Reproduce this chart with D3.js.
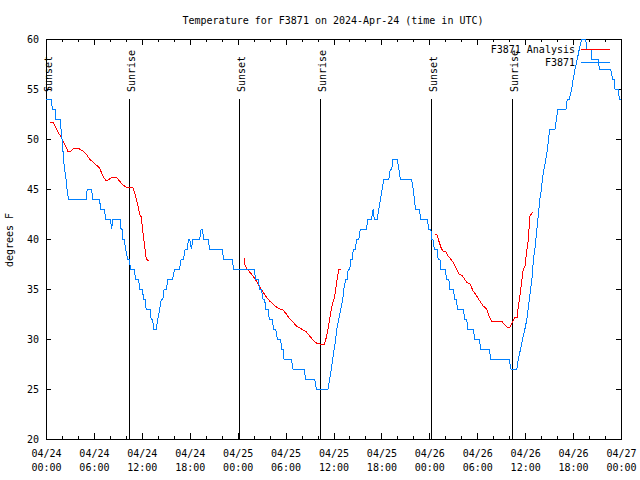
<!DOCTYPE html>
<html>
<head>
<meta charset="utf-8">
<script src="https://cdn.jsdelivr.net/npm/d3@7"></script>
<style>
  html, body { margin: 0; padding: 0; background: #fff; }
  svg text { font-family: "DejaVu Sans Mono", monospace; font-size: 10px; fill: #000; }
</style>
</head>
<body>
<svg id="chart" width="640" height="480"></svg>
<script>
// ---- DATA (hours after 2024-04-24 00:00 UTC) ----
const title = "Temperature for F3871 on 2024-Apr-24 (time in UTC)";
const yLabel = "degrees F";
const seriesNames = ["F3871 Analysis", "F3871"];

// F3871 observations
const obsHours = [0.00,0.69,0.78,1.19,1.25,1.78,1.88,2.01,2.11,2.19,2.32,2.51,2.63,2.82,
  5.04,5.16,5.70,5.87,6.71,6.83,7.33,7.46,8.08,8.21,8.40,9.27,9.40,9.55,9.63,9.78,9.96,
  10.21,10.40,10.59,11.03,11.22,11.59,11.72,12.06,12.22,12.41,12.53,13.03,13.16,13.35,
  13.47,13.81,14.01,14.23,14.44,14.64,14.79,15.10,15.23,15.85,16.10,16.73,16.92,17.23,
  17.42,17.67,17.86,17.98,18.20,18.42,19.24,19.43,19.58,19.74,20.28,20.49,22.06,22.25,
  23.29,23.50,26.04,26.26,26.54,26.76,26.97,27.17,27.38,27.51,27.80,27.95,28.30,28.51,
  28.76,28.98,29.39,29.48,29.68,29.80,30.73,30.93,32.31,32.52,33.65,33.86,35.32,35.53,
  35.72,35.91,36.09,36.28,36.41,36.66,36.91,37.16,37.29,37.54,37.72,37.85,38.04,38.16,
  38.35,38.48,38.73,38.91,39.17,39.35,40.13,40.29,40.76,40.96,41.11,41.46,41.67,41.89,
  42.09,42.30,42.93,43.11,43.30,43.46,43.97,44.18,44.37,45.77,45.97,46.12,46.27,46.72,
  46.94,47.73,47.94,48.19,48.31,48.44,48.63,48.98,49.10,49.32,49.44,50.03,50.13,50.45,
  50.51,50.98,51.20,51.41,51.51,52.24,52.45,52.66,52.83,53.49,53.70,54.24,54.46,55.50,
  55.71,58.00,58.22,58.97,59.13,59.43,59.68,59.97,60.22,60.38,60.53,60.68,60.85,60.94,
  61.04,61.22,61.35,61.47,61.60,61.72,61.85,62.04,62.16,62.35,62.60,62.79,62.92,63.10,
  63.73,63.92,64.11,65.11,65.27,65.52,65.82,66.02,66.24,66.53,66.78,67.08,67.58,67.70,
  68.24,68.33,69.16,69.28,70.71,70.96,71.13,71.25,71.66,71.79,72.00];
const obsTemps = [54,54,53,53,52,52,51,50,49,48,47,46,45,44,
  44,45,45,44,44,43,43,42,42,41,42,42,41,41,40,40,39,
  38,38,37,37,36,36,35,35,34,34,33,33,32,32,
  31,31,32,33,34,34,35,35,36,36,37,37,38,38,
  39,39,40,40,39,40,40,41,41,40,40,39,39,38,
  38,37,37,36,36,35,35,34,34,33,33,32,32,31,
  31,30,30,29,29,28,28,27,27,26,26,25,25,26,
  27,28,29,30,31,32,33,34,35,36,36,37,37,38,
  38,39,39,40,40,41,41,42,42,43,42,42,43,44,
  45,46,46,47,47,48,48,47,46,46,45,44,43,43,
  42,42,41,41,40,40,39,39,38,38,37,37,36,36,
  35,35,34,34,33,33,32,32,31,31,30,30,29,29,
  28,28,27,27,28,29,30,31,32,33,34,35,36,37,
  38,39,40,41,42,43,44,45,46,47,48,49,50,51,
  51,52,53,53,54,54,55,56,57,58,59,60,60,59,
  59,58,58,57,57,56,56,55,55,54,54];

// F3871 Analysis (three separate runs)
const anaHours1 = [0.56,0.85,1.19,1.48,1.91,2.32,2.73,3.16,3.36,3.79,4.20,4.61,5.04,5.45,5.87,
  6.29,6.71,7.12,7.54,7.96,8.37,8.80,9.21,9.63,10.05,10.47,10.88,11.09,11.30,11.51,11.72,
  11.93,12.13,12.35,12.56,12.88];
const anaTemps1 = [51.7,51.7,51.2,50.7,50.2,49.5,48.8,48.8,49.0,49.1,49.0,48.8,48.5,48.0,47.7,
  47.4,47.1,46.3,45.8,46.0,46.2,46.2,45.8,45.4,45.2,45.2,45.1,44.7,44.0,43.3,42.5,
  42.2,40.7,39.3,38.0,37.8];
const anaHours2 = [24.79,24.88,25.09,25.50,25.92,26.34,26.76,27.17,27.60,28.01,28.42,28.85,29.26,
  29.68,30.10,30.52,30.93,31.36,31.77,32.18,32.61,33.02,33.44,33.86,34.28,34.82,35.12,35.32,
  35.53,35.74,35.94,36.16,36.37,36.57,36.70,37.00];
const anaTemps2 = [38.1,37.5,37.1,36.7,36.3,35.8,35.2,34.7,34.2,33.8,33.5,33.2,33.0,
  32.9,32.5,32.0,31.7,31.3,31.1,30.9,30.7,30.3,29.9,29.6,29.5,29.4,30.2,31.0,
  32.0,33.0,33.7,34.3,35.5,36.5,37.0,37.0];
const anaHours3 = [48.69,48.98,49.23,49.53,49.73,50.07,50.36,50.78,51.11,51.41,51.74,52.16,52.66,
  53.08,53.49,53.92,54.33,54.74,55.17,55.50,55.80,57.05,57.46,57.88,58.09,58.43,58.72,59.01,
  59.13,59.34,59.56,59.76,59.97,60.18,60.38,60.60,60.94];
const anaTemps3 = [40.5,40.4,39.7,39.0,38.8,38.7,38.3,37.9,37.5,37.0,36.5,36.3,35.7,
  35.5,34.8,34.3,33.8,33.3,33.0,32.2,31.8,31.8,31.4,31.1,31.2,31.7,32.2,32.2,
  33.2,34.3,35.7,37.0,37.2,38.7,39.8,42.3,42.7];

// Sunrise / sunset markers
const sunHours = [0.06, 10.38, 24.16, 34.32, 48.23, 58.38];
const sunLabels = ["Sunset","Sunrise","Sunset","Sunrise","Sunset","Sunrise"];

// Axis ticks
const yTicks = [20,25,30,35,40,45,50,55,60];
const xMajorHours = [0,6,12,18,24,30,36,42,48,54,60,66,72];
const xMinorHours = d3.range(0, 73, 2);

// ---- DRAWING ----
const t0 = Date.UTC(2024, 3, 24);
const toDate = h => new Date(t0 + h * 3600e3);
const svg = d3.select("#chart");

const L = 46, R = 621, T = 39, B = 439;
const x = d3.scaleUtc().domain([toDate(0), toDate(72)]).range([L, R]);
const y = d3.scaleLinear().domain([20, 60]).range([B, T]);

// title
svg.append("text").attr("x", 333).attr("y", 24).attr("text-anchor", "middle").text(title);

// y label
svg.append("text").attr("transform", "translate(13,240) rotate(-90)")
  .attr("text-anchor", "middle").text(yLabel);

// border
svg.append("rect").attr("x", L + 0.5).attr("y", T + 0.5).attr("width", R - L).attr("height", B - T)
  .attr("fill", "none").attr("stroke", "#000").attr("shape-rendering", "crispEdges");

const fmtDay = d3.utcFormat("%m/%d"), fmtTime = d3.utcFormat("%H:%M");

// bottom major
const gxb = svg.append("g").attr("transform", `translate(0,${B})`)
  .call(d3.axisBottom(x).tickValues(xMajorHours.map(toDate)).tickSize(-6).tickPadding(11).tickFormat(""));
gxb.selectAll(".tick text").each(function(d) {
  const t = d3.select(this);
  t.append("tspan").attr("x", 0).attr("dy", "0.71em").text(fmtDay(d));
  t.append("tspan").attr("x", 0).attr("dy", "1.4em").text(fmtTime(d));
});
// bottom minor
svg.append("g").attr("transform", `translate(0,${B})`)
  .call(d3.axisBottom(x).tickValues(xMinorHours.map(toDate)).tickSize(-3).tickFormat(""));
// top major + minor
svg.append("g").attr("transform", `translate(0,${T})`)
  .call(d3.axisTop(x).tickValues(xMajorHours.map(toDate)).tickSize(-6).tickFormat(""));
svg.append("g").attr("transform", `translate(0,${T})`)
  .call(d3.axisTop(x).tickValues(xMinorHours.map(toDate)).tickSize(-3).tickFormat(""));
// y left and right
svg.append("g").attr("transform", `translate(${L},0)`)
  .call(d3.axisLeft(y).tickValues(yTicks).tickSize(-5).tickPadding(7).tickFormat(d3.format("d")));
svg.append("g").attr("transform", `translate(${R},0)`)
  .call(d3.axisRight(y).tickValues(yTicks).tickSize(-5).tickFormat(""));

svg.selectAll(".domain").remove();
svg.selectAll(".tick line").attr("stroke", "#000").attr("shape-rendering", "crispEdges");
svg.selectAll(".tick text").attr("font-family", "DejaVu Sans Mono, monospace").attr("font-size", 10).attr("fill", "#000");

// sun lines
sunHours.forEach((h, i) => {
  const px = Math.round(x(toDate(h))) + 0.5;
  svg.append("line").attr("x1", px).attr("x2", px).attr("y1", 99).attr("y2", B + 0.5)
    .attr("stroke", "#000").attr("shape-rendering", "crispEdges");
  svg.append("text").attr("transform", `translate(${px + 1.5},92) rotate(-90)`)
    .attr("dominant-baseline", "central").text(sunLabels[i]);
});

const line = d3.line().x(d => x(toDate(d[0]))).y(d => y(d[1]));
const plotLine = (hs, vs, color) => svg.append("path")
  .datum(hs.map((h, i) => [h, vs[i]]))
  .attr("d", line).attr("fill", "none").attr("stroke", color).attr("stroke-width", 1)
  .attr("shape-rendering", "crispEdges");

const RED = "#ff0000", BLUE = "#0080ff";
plotLine(anaHours1, anaTemps1, RED);
plotLine(anaHours2, anaTemps2, RED);
plotLine(anaHours3, anaTemps3, RED);
plotLine(obsHours, obsTemps, BLUE);

// legend
const legend = [[seriesNames[0], RED, 49.5], [seriesNames[1], BLUE, 62.5]];
legend.forEach(([name, c, ly]) => {
  svg.append("text").attr("x", 575).attr("y", ly).attr("text-anchor", "end")
    .attr("dominant-baseline", "central").text(name);
  svg.append("line").attr("x1", 581).attr("x2", 610).attr("y1", ly).attr("y2", ly)
    .attr("stroke", c).attr("shape-rendering", "crispEdges");
});
</script>
</body>
</html>
